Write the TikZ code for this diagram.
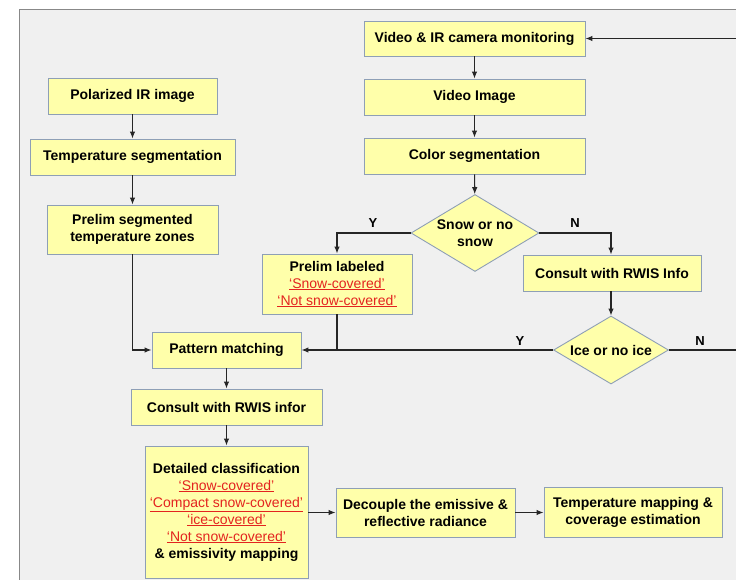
\documentclass[tikz,border=0pt]{standalone}
\usepackage{fontspec}
\setmainfont{Liberation Sans}
\usetikzlibrary{arrows.meta,shapes.geometric}
\definecolor{bgc}{HTML}{F0F0F0}
\definecolor{boxfill}{HTML}{FFFFAA}
\definecolor{boxline}{HTML}{8E9FB6}
\definecolor{redtxt}{HTML}{E3231F}
\definecolor{framec}{HTML}{888888}
\newcommand{\rl}[1]{\textcolor{redtxt}{\mdseries\underline{#1}}}
\tikzset{
  box/.style={draw=boxline, fill=boxfill, line width=0.9pt, rectangle, align=center,
    inner sep=0pt, font=\fontsize{14}{17}\selectfont\bfseries},
  dia/.style={draw=boxline, fill=boxfill, line width=0.9pt, diamond, align=center,
    font=\fontsize{14}{17}\selectfont\bfseries},
  arr/.style={draw=black!85, line width=1.1pt, -{Latex[length=7pt,width=5.5pt]}},
  ln/.style={draw=black!85, line width=1.1pt},
  yn/.style={font=\fontsize{13}{15}\selectfont\bfseries, inner sep=0pt}
}
\begin{document}
\begin{tikzpicture}[x=1pt,y=-1pt]
\useasboundingbox (0,0) rectangle (736,580);
\fill[white] (0,0) rectangle (736,580);
\fill[bgc] (19.5,9.5) rectangle (740,585);
\draw[framec, line width=1.4pt] (19.5,585) -- (19.5,9.5) -- (740,9.5);

\node[box, minimum width=221pt, minimum height=35pt] (vid) at (474.5,38.5) {Video \& IR camera monitoring};
\node[box, minimum width=221pt, minimum height=36pt] (vimg) at (474.5,97) {Video Image};
\node[box, minimum width=221pt, minimum height=36pt] (col) at (474.5,156) {Color segmentation};
\node[box, minimum width=169pt, minimum height=36pt] (pol) at (132.5,96) {Polarized IR image};
\node[box, minimum width=205pt, minimum height=36pt] (tseg) at (132.5,157) {Temperature segmentation};
\node[box, minimum width=171pt, minimum height=49pt] (pseg) at (132.5,229.5) {Prelim segmented\\temperature zones};
\node[dia, aspect=1.66, inner sep=-2pt, minimum width=128pt, minimum height=77pt] (snow) at (475,233) {Snow or no\\snow};
\node[box, minimum width=150pt, minimum height=60pt] (plab) at (337,284) {Prelim labeled\\\rl{‘Snow-covered’}\\\rl{‘Not snow-covered’}};
\node[box, minimum width=178pt, minimum height=36pt] (crwis) at (612,273) {Consult with RWIS Info};
\node[dia, aspect=1.69, inner sep=1pt, minimum width=115pt, minimum height=68pt] (ice) at (611,350) {Ice or no ice};
\node[box, minimum width=149pt, minimum height=36pt] (pm) at (226.5,350) {Pattern matching};
\node[box, minimum width=191pt, minimum height=36pt] (crwis2) at (226.5,407) {Consult with RWIS infor};
\node[box, minimum width=163pt, minimum height=132pt] (det) at (226.5,512) {Detailed classification\\\rl{‘Snow-covered’}\\\rl{‘Compact snow-covered’}\\\rl{‘ice-covered’}\\\rl{‘Not snow-covered’}\\\& emissivity mapping};
\node[box, minimum width=179pt, minimum height=49pt] (dec) at (425.5,512.5) {Decouple the emissive \&\\reflective radiance};
\node[box, minimum width=178pt, minimum height=50pt] (tmap) at (633,512) {Temperature mapping \&\\coverage estimation};

\coordinate (loop) at (745,350);

\draw[arr] (vid) -- (vimg);
\draw[arr] (vimg) -- (col);
\draw[arr] (col) -- (snow);
\draw[arr] (pol) -- (tseg);
\draw[arr] (tseg) -- (pseg);
\draw[arr] (snow.west) -| (plab.north);
\draw[arr] (snow.east) -| (611,254.5);
\draw[arr] (611,291) -- (ice.north);
\draw[arr] (ice.west) -- (pm.east);
\draw[ln] (plab.south) -- (plab.south |- pm.east);
\draw[arr] (pseg.south) |- (pm.west);
\draw[arr] (pm) -- (crwis2);
\draw[arr] (crwis2) -- (det);
\draw[arr] (det.east |- dec.west) -- (dec.west);
\draw[arr] (dec.east) -- (tmap.west |- dec.east);
\draw[arr] (ice.east) -- (loop) |- (vid.east);

\node[yn] (ly1) at (373,223) {Y};
\node[yn] (ln1) at (575,223) {N};
\node[yn] (ly2) at (520,341) {Y};
\node[yn] (ln2) at (700,341) {N};
\end{tikzpicture}
\end{document}
